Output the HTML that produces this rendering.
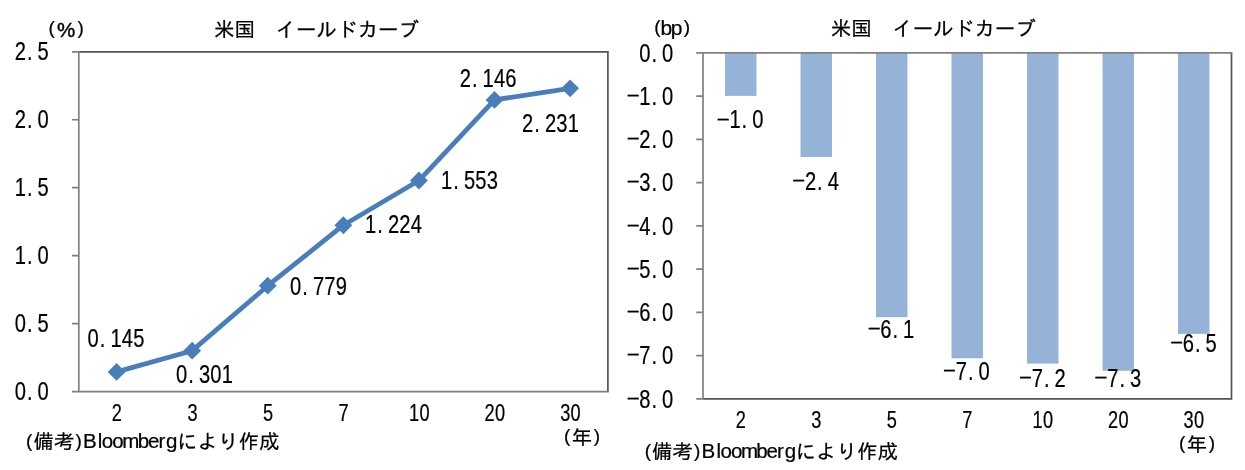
<!DOCTYPE html>
<html lang="ja">
<head>
<meta charset="utf-8">
<title>米国 イールドカーブ</title>
<style>
html,body{margin:0;padding:0;background:#fff;}
body{width:1245px;height:470px;overflow:hidden;font-family:"Liberation Sans", "IPAGothic", sans-serif;}
svg{display:block;}
text{font-family:"Liberation Sans", "IPAGothic", sans-serif;fill:#000;}
text.l{text-anchor:middle;stroke:#000;stroke-width:0.22px;}
text.j{text-anchor:start;}
tspan.b{stroke:#000;stroke-width:0.45px;}
</style>
</head>
<body>
<svg width="1245" height="470" viewBox="0 0 1245 470">
<rect width="1245" height="470" fill="#fff"/>
<path fill="none" stroke="#545454" stroke-width="1.70" d="M78.80 51.80H607.90V391.60"/>
<path fill="none" stroke="#808080" stroke-width="1.70" d="M78.80 50.95V392.45M72.00 391.60H608.75M72.00 323.64H78.80M72.00 255.68H78.80M72.00 187.72H78.80M72.00 119.76H78.80M72.00 51.80H78.80"/>
<text class="l" transform="translate(0,400.00) scale(0.790,1)" font-size="25.50"><tspan y="0" x="25.82 37.72 54.68">0.0</tspan></text>
<text class="l" transform="translate(0,332.00) scale(0.790,1)" font-size="25.50"><tspan y="0" x="25.82 37.72 54.68">0.5</tspan></text>
<text class="l" transform="translate(0,264.00) scale(0.790,1)" font-size="25.50"><tspan y="0" x="25.82 37.72 54.68">1.0</tspan></text>
<text class="l" transform="translate(0,196.00) scale(0.790,1)" font-size="25.50"><tspan y="0" x="25.82 37.72 54.68">1.5</tspan></text>
<text class="l" transform="translate(0,128.00) scale(0.790,1)" font-size="25.50"><tspan y="0" x="25.82 37.72 54.68">2.0</tspan></text>
<text class="l" transform="translate(0,60.00) scale(0.790,1)" font-size="25.50"><tspan y="0" x="25.82 37.72 54.68">2.5</tspan></text>
<text class="l" transform="translate(0,421.00) scale(0.790,1)" font-size="23.00"><tspan y="0" x="147.97">2</tspan></text>
<text class="l" transform="translate(0,421.00) scale(0.790,1)" font-size="23.00"><tspan y="0" x="243.64">3</tspan></text>
<text class="l" transform="translate(0,421.00) scale(0.790,1)" font-size="23.00"><tspan y="0" x="339.32">5</tspan></text>
<text class="l" transform="translate(0,421.00) scale(0.790,1)" font-size="23.00"><tspan y="0" x="435.00">7</tspan></text>
<text class="l" transform="translate(0,421.00) scale(0.790,1)" font-size="23.00"><tspan y="0" x="524.10 537.26">10</tspan></text>
<text class="l" transform="translate(0,421.00) scale(0.790,1)" font-size="23.00"><tspan y="0" x="619.77 632.94">20</tspan></text>
<text class="l" transform="translate(0,421.00) scale(0.790,1)" font-size="23.00"><tspan y="0" x="715.45 728.62">30</tspan></text>
<polyline fill="none" stroke="#4a7ebb" stroke-width="4.8" stroke-linejoin="round" stroke-linecap="round" points="116.59,371.89 192.18,350.69 267.76,285.72 343.35,225.23 418.94,180.52 494.52,99.92 570.11,88.36"/>
<path fill="#4a7ebb" d="M107.69 371.89L116.59 362.99L125.49 371.89L116.59 380.79Z"/>
<path fill="#4a7ebb" d="M183.28 350.69L192.18 341.79L201.08 350.69L192.18 359.59Z"/>
<path fill="#4a7ebb" d="M258.86 285.72L267.76 276.82L276.66 285.72L267.76 294.62Z"/>
<path fill="#4a7ebb" d="M334.45 225.23L343.35 216.33L352.25 225.23L343.35 234.13Z"/>
<path fill="#4a7ebb" d="M410.04 180.52L418.94 171.62L427.84 180.52L418.94 189.42Z"/>
<path fill="#4a7ebb" d="M485.62 99.92L494.52 91.02L503.42 99.92L494.52 108.82Z"/>
<path fill="#4a7ebb" d="M561.21 88.36L570.11 79.46L579.01 88.36L570.11 97.26Z"/>
<text class="l" transform="translate(0,347.00) scale(0.790,1)" font-size="25.50"><tspan y="0" x="117.97 129.87 146.84 161.27 175.70">0.145</tspan></text>
<text class="l" transform="translate(0,382.70) scale(0.790,1)" font-size="25.50"><tspan y="0" x="230.00 241.90 258.86 273.29 287.72">0.301</tspan></text>
<text class="l" transform="translate(0,295.00) scale(0.790,1)" font-size="25.50"><tspan y="0" x="374.30 386.20 403.16 417.59 432.03">0.779</tspan></text>
<text class="l" transform="translate(0,233.00) scale(0.790,1)" font-size="25.50"><tspan y="0" x="469.24 481.14 498.10 512.53 526.96">1.224</tspan></text>
<text class="l" transform="translate(0,189.00) scale(0.790,1)" font-size="25.50"><tspan y="0" x="565.44 577.34 594.30 608.73 623.16">1.553</tspan></text>
<text class="l" transform="translate(0,87.30) scale(0.790,1)" font-size="25.50"><tspan y="0" x="588.99 600.89 617.85 632.28 646.71">2.146</tspan></text>
<text class="l" transform="translate(0,132.00) scale(0.790,1)" font-size="25.50"><tspan y="0" x="667.97 679.87 696.84 711.27 725.70">2.231</tspan></text>
<text class="l" font-size="20.50"><tspan font-size="19.00" y="34.10" x="51.73">(</tspan><tspan class="b" y="36.90" x="66.20">%</tspan><tspan font-size="19.00" y="34.10" x="80.67">)</tspan></text>
<text class="l" font-size="20.50"><tspan y="37.40" x="224.35 244.85">米国</tspan><tspan y="37.40" x="265.35 285.85 306.35 326.85 347.35 367.85 388.35 408.85">　イールドカーブ</tspan></text>
<text class="l" font-size="20.50"><tspan font-size="19.00" y="447.40" x="29.22">(</tspan><tspan y="449.20" x="43.70 64.20">備考</tspan><tspan font-size="19.00" y="447.40" x="78.67">)</tspan><tspan y="447.90" x="89.83 100.08 107.53 118.03 130.82 143.38 153.62 161.88 171.82">Bloomberg</tspan><tspan y="449.20" x="187.20 207.70 228.20 248.70 269.20">により作成</tspan></text>
<text class="l" font-size="20.50"><tspan font-size="19.00" y="442.40" x="567.23">(</tspan><tspan y="445.00" x="582.10">年</tspan><tspan font-size="19.00" y="442.40" x="596.98">)</tspan></text>
<rect fill="#95b3d7" x="725.02" y="52.90" width="31.46" height="43.00"/>
<rect fill="#95b3d7" x="800.52" y="52.90" width="31.46" height="104.10"/>
<rect fill="#95b3d7" x="876.02" y="52.90" width="31.46" height="264.30"/>
<rect fill="#95b3d7" x="951.52" y="52.90" width="31.46" height="305.40"/>
<rect fill="#95b3d7" x="1027.02" y="52.90" width="31.46" height="310.70"/>
<rect fill="#95b3d7" x="1102.52" y="52.90" width="31.46" height="317.90"/>
<rect fill="#95b3d7" x="1178.02" y="52.90" width="31.46" height="281.00"/>
<path fill="none" stroke="#545454" stroke-width="1.70" d="M1231.50 52.90V398.80H703.00"/>
<path fill="none" stroke="#808080" stroke-width="1.70" d="M703.00 52.05V399.65M696.20 52.90H1232.35M696.20 96.14H703.00M696.20 139.38H703.00M696.20 182.61H703.00M696.20 225.85H703.00M696.20 269.09H703.00M696.20 312.32H703.00M696.20 355.56H703.00M696.20 398.80H703.00"/>
<text class="l" transform="translate(0,62.00) scale(0.790,1)" font-size="25.50"><tspan y="0" x="816.33 828.23 845.19">0.0</tspan></text>
<text class="l" transform="translate(0,105.00) scale(0.790,1)" font-size="25.50"><tspan font-size="18" y="-3.7" x="801.52" textLength="18.23" lengthAdjust="spacingAndGlyphs">-</tspan><tspan y="0" x="816.33 828.23 845.19">1.0</tspan></text>
<text class="l" transform="translate(0,148.00) scale(0.790,1)" font-size="25.50"><tspan font-size="18" y="-3.7" x="801.52" textLength="18.23" lengthAdjust="spacingAndGlyphs">-</tspan><tspan y="0" x="816.33 828.23 845.19">2.0</tspan></text>
<text class="l" transform="translate(0,191.00) scale(0.790,1)" font-size="25.50"><tspan font-size="18" y="-3.7" x="801.52" textLength="18.23" lengthAdjust="spacingAndGlyphs">-</tspan><tspan y="0" x="816.33 828.23 845.19">3.0</tspan></text>
<text class="l" transform="translate(0,235.00) scale(0.790,1)" font-size="25.50"><tspan font-size="18" y="-3.7" x="801.52" textLength="18.23" lengthAdjust="spacingAndGlyphs">-</tspan><tspan y="0" x="816.33 828.23 845.19">4.0</tspan></text>
<text class="l" transform="translate(0,278.00) scale(0.790,1)" font-size="25.50"><tspan font-size="18" y="-3.7" x="801.52" textLength="18.23" lengthAdjust="spacingAndGlyphs">-</tspan><tspan y="0" x="816.33 828.23 845.19">5.0</tspan></text>
<text class="l" transform="translate(0,321.00) scale(0.790,1)" font-size="25.50"><tspan font-size="18" y="-3.7" x="801.52" textLength="18.23" lengthAdjust="spacingAndGlyphs">-</tspan><tspan y="0" x="816.33 828.23 845.19">6.0</tspan></text>
<text class="l" transform="translate(0,364.00) scale(0.790,1)" font-size="25.50"><tspan font-size="18" y="-3.7" x="801.52" textLength="18.23" lengthAdjust="spacingAndGlyphs">-</tspan><tspan y="0" x="816.33 828.23 845.19">7.0</tspan></text>
<text class="l" transform="translate(0,408.00) scale(0.790,1)" font-size="25.50"><tspan font-size="18" y="-3.7" x="801.52" textLength="18.23" lengthAdjust="spacingAndGlyphs">-</tspan><tspan y="0" x="816.33 828.23 845.19">8.0</tspan></text>
<text class="l" transform="translate(0,428.00) scale(0.790,1)" font-size="23.00"><tspan y="0" x="937.78">2</tspan></text>
<text class="l" transform="translate(0,428.00) scale(0.790,1)" font-size="23.00"><tspan y="0" x="1033.35">3</tspan></text>
<text class="l" transform="translate(0,428.00) scale(0.790,1)" font-size="23.00"><tspan y="0" x="1128.92">5</tspan></text>
<text class="l" transform="translate(0,428.00) scale(0.790,1)" font-size="23.00"><tspan y="0" x="1224.49">7</tspan></text>
<text class="l" transform="translate(0,428.00) scale(0.790,1)" font-size="23.00"><tspan y="0" x="1313.48 1326.65">10</tspan></text>
<text class="l" transform="translate(0,428.00) scale(0.790,1)" font-size="23.00"><tspan y="0" x="1409.05 1422.22">20</tspan></text>
<text class="l" transform="translate(0,428.00) scale(0.790,1)" font-size="23.00"><tspan y="0" x="1504.62 1517.78">30</tspan></text>
<text class="l" transform="translate(0,128.30) scale(0.790,1)" font-size="25.50"><tspan font-size="18" y="-3.7" x="915.57" textLength="18.23" lengthAdjust="spacingAndGlyphs">-</tspan><tspan y="0" x="930.38 942.28 959.24">1.0</tspan></text>
<text class="l" transform="translate(0,189.80) scale(0.790,1)" font-size="25.50"><tspan font-size="18" y="-3.7" x="1011.14" textLength="18.23" lengthAdjust="spacingAndGlyphs">-</tspan><tspan y="0" x="1025.95 1037.85 1054.81">2.4</tspan></text>
<text class="l" transform="translate(0,338.00) scale(0.790,1)" font-size="25.50"><tspan font-size="18" y="-3.7" x="1106.46" textLength="18.23" lengthAdjust="spacingAndGlyphs">-</tspan><tspan y="0" x="1121.27 1133.16 1150.13">6.1</tspan></text>
<text class="l" transform="translate(0,380.00) scale(0.790,1)" font-size="25.50"><tspan font-size="18" y="-3.7" x="1202.03" textLength="18.23" lengthAdjust="spacingAndGlyphs">-</tspan><tspan y="0" x="1216.84 1228.73 1245.70">7.0</tspan></text>
<text class="l" transform="translate(0,387.00) scale(0.790,1)" font-size="25.50"><tspan font-size="18" y="-3.7" x="1298.23" textLength="18.23" lengthAdjust="spacingAndGlyphs">-</tspan><tspan y="0" x="1313.04 1324.94 1341.90">7.2</tspan></text>
<text class="l" transform="translate(0,387.00) scale(0.790,1)" font-size="25.50"><tspan font-size="18" y="-3.7" x="1393.80" textLength="18.23" lengthAdjust="spacingAndGlyphs">-</tspan><tspan y="0" x="1408.61 1420.51 1437.47">7.3</tspan></text>
<text class="l" transform="translate(0,352.00) scale(0.790,1)" font-size="25.50"><tspan font-size="18" y="-3.7" x="1489.37" textLength="18.23" lengthAdjust="spacingAndGlyphs">-</tspan><tspan y="0" x="1504.18 1516.08 1533.04">6.5</tspan></text>
<text class="l" font-size="21.00"><tspan font-size="19.00" y="33.00" x="657.42">(</tspan><tspan y="35.00" x="666.38 676.62">bp</tspan><tspan font-size="19.00" y="33.00" x="686.88">)</tspan></text>
<text class="l" font-size="20.50"><tspan y="35.70" x="840.95 861.45">米国</tspan><tspan y="35.70" x="881.95 902.45 922.95 943.45 963.95 984.45 1004.95 1025.45">　イールドカーブ</tspan></text>
<text class="l" font-size="20.50"><tspan font-size="19.00" y="457.00" x="647.82">(</tspan><tspan y="458.80" x="662.30 682.80">備考</tspan><tspan font-size="19.00" y="457.00" x="697.27">)</tspan><tspan y="457.50" x="708.42 718.67 726.12 736.62 749.42 761.97 772.22 780.47 790.42">Bloomberg</tspan><tspan y="458.80" x="805.80 826.30 846.80 867.30 887.80">により作成</tspan></text>
<text class="l" font-size="20.50"><tspan font-size="19.00" y="449.40" x="1182.12">(</tspan><tspan y="452.00" x="1197.00">年</tspan><tspan font-size="19.00" y="449.40" x="1211.88">)</tspan></text>
</svg>
</body>
</html>
